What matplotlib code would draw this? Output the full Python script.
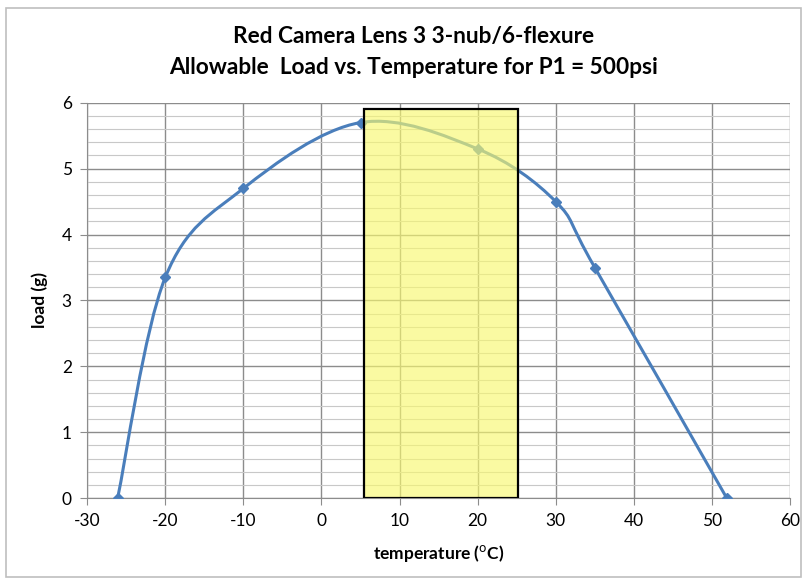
import numpy as np
from matplotlib import pyplot as plt
from matplotlib.path import Path
from matplotlib.patches import PathPatch, Rectangle

# data
temp = [-26.1, -20, -10, 5, 20, 30, 35, 51.9]
load = [0, 3.35, 4.7, 5.7, 5.3, 4.5, 3.5, 0]

# highlighted band
band_x = [5.5, 25.2]
band_top = 5.9

title = 'Red Camera Lens 3 3-nub/6-flexure\nAllowable  Load vs. Temperature for P1 = 500psi'
line_color = '#4a7ebb'

plt.rcParams['font.family'] = ['Lato', 'DejaVu Sans']
plt.rcParams['axes.unicode_minus'] = False

fig = plt.figure(figsize=(8.07, 5.84), dpi=100)
ax = fig.add_axes([0.108, 0.147, 0.871, 0.677])

# excel style smoothed line (bezier through the points)
pts = np.column_stack([temp, load])
ext = np.vstack([pts[0], pts, pts[-1]])
verts = [tuple(pts[0])]
codes = [Path.MOVETO]
for i in range(len(pts) - 1):
    p0, p1, p2, p3 = ext[i], ext[i + 1], ext[i + 2], ext[i + 3]
    verts += [tuple(p1 + (p2 - p0) / 6), tuple(p2 - (p3 - p1) / 6), tuple(p2)]
    codes += [Path.CURVE4] * 3
ax.add_patch(PathPatch(Path(verts, codes), facecolor='none', edgecolor=line_color,
                       lw=2.2, zorder=3))
ax.plot(temp, load, linestyle='none', marker='D', ms=5, color=line_color, zorder=4)

ax.add_patch(Rectangle((band_x[0], 0), band_x[1] - band_x[0], band_top,
                       facecolor='#f8f870', alpha=0.65, edgecolor='none', zorder=5))
ax.add_patch(Rectangle((band_x[0], 0), band_x[1] - band_x[0], band_top,
                       facecolor='none', edgecolor='black', lw=1.6, zorder=6))

ax.set_xlim(-30, 60)
ax.set_ylim(0, 6)
ax.set_xticks(np.arange(-30, 61, 10))
ax.set_yticks(np.arange(0, 7, 1))
ax.set_yticks(np.arange(0, 6.01, 0.2), minor=True)
ax.grid(which='major', axis='both', color='#8c8c8c', lw=1.0, zorder=1)
ax.grid(which='minor', axis='y', color='#c8c8c8', lw=0.8, zorder=1)
ax.set_axisbelow(True)
for s in ['top', 'right']:
    ax.spines[s].set_visible(False)
for s in ['left', 'bottom']:
    ax.spines[s].set_color('#8c8c8c')
ax.tick_params(which='major', length=5, color='#8c8c8c', labelsize=12.5, pad=6)
ax.tick_params(which='minor', length=0)

ax.set_xlabel('temperature ($^{\\mathrm{o}}$C)', fontsize=12.5, fontweight='bold', labelpad=10)
ax.set_ylabel('load (g)', fontsize=12.5, fontweight='bold', labelpad=10)
fig.text(0.512, 0.911, title, ha='center', va='center', fontsize=16.3,
         fontweight='bold', linespacing=1.55)

fig.patches.append(Rectangle((0.008, 0.012), 0.984, 0.975, transform=fig.transFigure,
                             facecolor='none', edgecolor='#bfbfbf', lw=1.2))

plt.savefig('out.png', format='png')
